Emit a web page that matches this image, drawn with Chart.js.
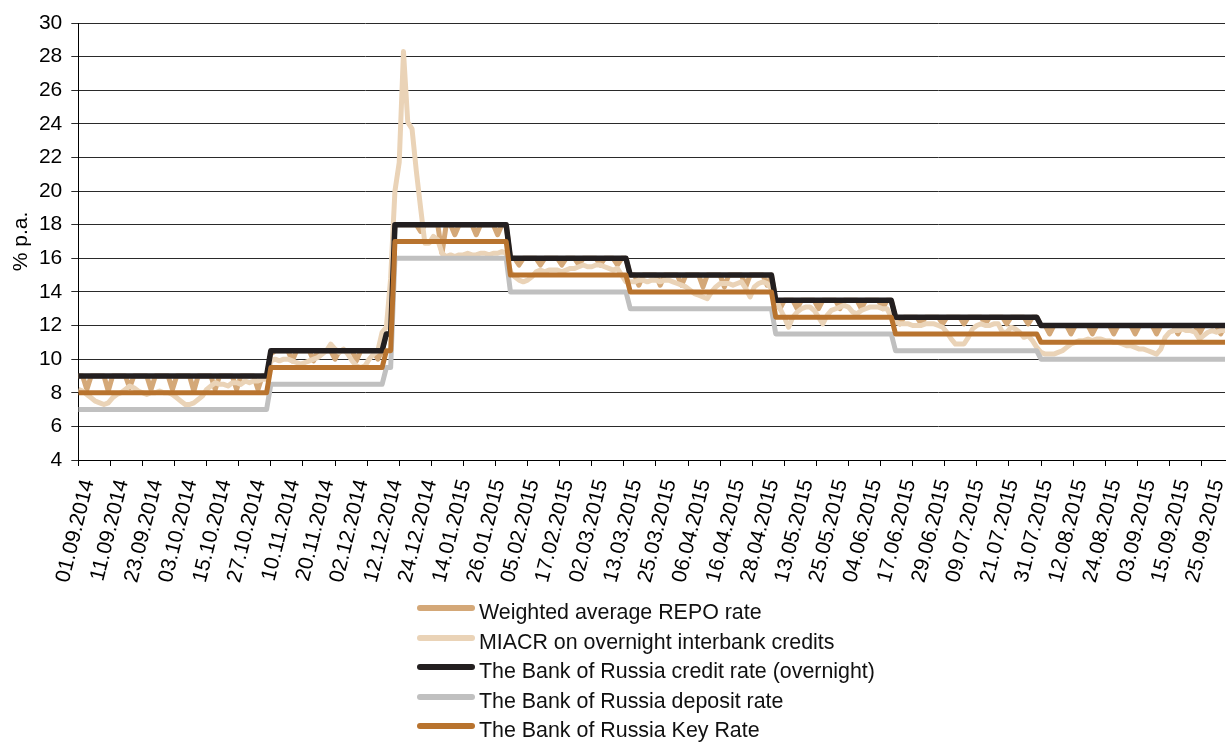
<!DOCTYPE html>
<html>
<head>
<meta charset="utf-8">
<script src="https://cdn.jsdelivr.net/npm/chart.js@4.4.1/dist/chart.umd.min.js"></script>
<style>
  html, body { margin: 0; padding: 0; background: #fff; }
  #wrap { position: relative; width: 1228px; height: 742px; overflow: hidden; }
  #box { position: absolute; left: 0; top: 0; width: 1228px; height: 600px; }
  #legend { position: absolute; left: 417px; top: 598px; font: 21.4px "Liberation Sans", Arial, sans-serif; color: #111; }
  #legend div { height: 29.6px; line-height: 29.6px; white-space: nowrap; }
  #legend .sw { display: inline-block; width: 58px; height: 6px; border-radius: 3px; margin-right: 4px; vertical-align: baseline; position: relative; top: -8px; }
</style>
</head>
<body>
<div id="wrap">
  <div id="box"><canvas id="chartRates"></canvas></div>
  <div id="legend"></div>
</div>
<script>
// ==========================
// DATA (one value per trading day, 01.09.2014 - 30.09.2015)
// ==========================
const tickLabels = [
  "01.09.2014", "11.09.2014", "23.09.2014", "03.10.2014", "15.10.2014", "27.10.2014",
  "10.11.2014", "20.11.2014", "02.12.2014", "12.12.2014", "24.12.2014", "14.01.2015",
  "26.01.2015", "05.02.2015", "17.02.2015", "02.03.2015", "13.03.2015", "25.03.2015",
  "06.04.2015", "16.04.2015", "28.04.2015", "13.05.2015", "25.05.2015", "04.06.2015",
  "17.06.2015", "29.06.2015", "09.07.2015", "21.07.2015", "31.07.2015", "12.08.2015",
  "24.08.2015", "03.09.2015", "15.09.2015", "25.09.2015"
];
const daysPerLabel = 8;
const daysPerTickMark = 7.5;

const repoRate = [
  9, 9, 8.2, 9, 9, 9, 9, 8.1, 9, 9,
  9, 9, 8.3, 9, 9, 9, 9, 8.2, 9, 9,
  9, 9, 8.2, 9, 9, 9, 9, 8.1, 9, 9,
  9, 9, 8.2, 9, 9, 9, 9, 8.2, 9, 9,
  9, 9, 8.2, 9, 9, 10.3, 10.5, 10.5, 10.5, 10.5,
  9.9, 10.5, 10.5, 10.5, 10.5, 9.9, 10.5, 10.5, 10.5, 10.5,
  10.0, 10.5, 10.5, 10.5, 10.5, 9.9, 10.5, 10.5, 10.5, 10.5,
  10.0, 10.5, 11.5, 11.5, 18, 18, 18, 18, 18, 18,
  17.6, 18, 18, 18, 18, 16.3, 18, 18, 17.4, 18,
  18, 18, 18, 17.4, 18, 18, 18, 18, 17.4, 18,
  18, 16, 16, 15.6, 16, 16, 16, 16, 15.6, 16,
  16, 16, 16, 15.6, 16, 16, 16, 15.6, 16, 16,
  16, 16, 15.6, 16, 16, 16, 15.6, 16, 16, 15,
  15, 14.4, 15, 15, 15, 15, 14.4, 15, 15, 15,
  15, 14.4, 15, 15, 15, 15, 14.3, 15, 15, 15,
  15, 14.3, 15, 15, 15, 15, 14.3, 15, 15, 15,
  15, 14.4, 15, 13.5, 13.0, 13.5, 13.5, 13.5, 13.0, 13.5,
  13.5, 13.5, 13.5, 13.0, 13.5, 13.5, 13.5, 13.5, 13.0, 13.5,
  13.5, 13.5, 13.5, 13.0, 13.5, 13.5, 13.5, 13.5, 13.0, 13.5,
  13.5, 12.5, 12.1, 12.5, 12.5, 12.5, 12.5, 12.1, 12.5, 12.5,
  12.5, 12.5, 12.1, 12.5, 12.5, 12.5, 12.5, 12.1, 12.5, 12.5,
  12.5, 12.5, 12.1, 12.5, 12.5, 12.5, 12.5, 12.1, 12.5, 12.5,
  12.5, 12.5, 12.1, 12.5, 12.5, 12, 12, 11.5, 12, 12,
  12, 12, 11.5, 12, 12, 12, 12, 11.5, 12, 12,
  12, 12, 11.5, 12, 12, 12, 12, 11.5, 12, 12,
  12, 12, 11.5, 12, 12, 12, 12, 11.5, 12, 12,
  12, 12, 11.5, 12, 12, 12, 12, 11.5, 12
];

const miacrRate = [
  8.2, 8.1, 7.9, 7.7, 7.5, 7.4, 7.3, 7.4, 7.7, 7.9,
  8.0, 8.2, 8.4, 8.3, 8.1, 8.0, 7.9, 8.0, 8.0, 8.1,
  8.0, 8.0, 7.9, 7.7, 7.5, 7.3, 7.3, 7.4, 7.6, 7.8,
  8.2, 8.4, 8.6, 8.5, 8.5, 8.4, 8.6, 8.6, 8.5, 8.7,
  8.6, 8.7, 8.7, 8.8, 8.8, 9.9, 10.0, 9.9, 10.0, 10.0,
  9.9, 9.8, 9.7, 9.8, 9.9, 10.0, 10.1, 10.3, 10.5, 10.9,
  10.6, 10.4, 10.6, 10.3, 9.9, 9.6, 9.5, 9.6, 10.0, 10.3,
  10.5, 11.6, 11.9, 14.8, 20.0, 21.7, 28.3, 24.1, 23.7, 21.2,
  19.0, 16.9, 16.9, 17.3, 17.1, 16.3, 16.1, 16.2, 16.1, 16.2,
  16.2, 16.3, 16.2, 16.2, 16.3, 16.3, 16.2, 16.3, 16.3, 16.4,
  16.3, 15.2, 14.9, 14.7, 14.6, 14.7, 14.9, 15.2, 15.3, 15.2,
  15.3, 15.3, 15.3, 15.2, 15.3, 15.4, 15.4, 15.5, 15.6, 15.5,
  15.5, 15.6, 15.6, 15.5, 15.4, 15.3, 15.4, 15.0, 14.6, 14.6,
  14.6, 14.7, 14.7, 14.6, 14.7, 14.7, 14.6, 14.7, 14.7, 14.6,
  14.5, 14.4, 14.3, 14.1, 13.9, 13.8, 13.7, 13.6, 14.0, 14.3,
  14.5, 14.5, 14.5, 14.4, 14.5, 14.6, 14.2, 13.7, 14.3, 14.5,
  14.6, 14.5, 14.2, 13.6, 13.0, 12.5, 11.9, 12.5, 12.8, 13.0,
  13.1, 13.1, 12.9, 12.5, 12.1, 12.6, 12.9, 13.0, 13.1, 13.2,
  13.1, 12.8, 12.7, 12.9, 13.0, 13.1, 13.1, 13.1, 13.0, 13.0,
  12.5, 12.2, 12.1, 12.1, 12.1, 12.0, 12.0, 12.0, 12.1, 12.1,
  12.1, 12.0, 11.9, 11.6, 11.2, 10.9, 10.9, 10.9, 11.3, 11.8,
  12.0, 12.1, 12.0, 12.0, 12.1, 12.1, 11.6, 11.6, 11.9, 11.8,
  11.6, 11.3, 11.4, 11.1, 10.7, 10.4, 10.3, 10.3, 10.3, 10.4,
  10.5, 10.7, 10.9, 11.0, 11.1, 11.1, 11.2, 11.1, 11.2, 11.2,
  11.1, 11.1, 11.0, 11.0, 10.9, 10.8, 10.8, 10.7, 10.6, 10.6,
  10.5, 10.4, 10.3, 10.6, 11.3, 11.6, 11.7, 11.7, 11.8, 11.7,
  11.7, 11.6, 11.2, 11.4, 11.6, 11.7, 11.6, 11.7, 11.7
];

// policy rates: [trading day, rate] at every change
const creditRate = [
  [0, 9], [44, 9], [45, 10.5], [71, 10.5], [72, 11.5], [73, 11.5], [74, 18], [100, 18],
  [101, 16], [128, 16], [129, 15], [162, 15], [163, 13.5], [190, 13.5], [191, 12.5],
  [224, 12.5], [225, 12], [268, 12]
];
const depositRate = [
  [0, 7], [44, 7], [45, 8.5], [71, 8.5], [72, 9.5], [73, 9.5], [74, 16], [100, 16],
  [101, 14], [128, 14], [129, 13], [162, 13], [163, 11.5], [190, 11.5], [191, 10.5],
  [224, 10.5], [225, 10], [268, 10]
];
const keyRate = [
  [0, 8], [44, 8], [45, 9.5], [71, 9.5], [72, 10.5], [73, 10.5], [74, 17], [100, 17],
  [101, 15], [128, 15], [129, 14], [162, 14], [163, 12.5], [190, 12.5], [191, 11.5],
  [224, 11.5], [225, 11], [268, 11]
];

const daily = arr => arr.map((v, i) => ({ x: i, y: v }));
const steps = arr => arr.map(p => ({ x: p[0], y: p[1] }));

const font = { family: "'Liberation Sans', Arial, sans-serif", size: 21 };
const lastDay = miacrRate.length - 1;

// ==========================
// CHART
// ==========================
document.addEventListener("DOMContentLoaded", () => {
  const chart = new Chart(document.getElementById("chartRates"), {
    type: "line",
    data: {
      datasets: [
        { label: "Weighted average REPO rate", data: daily(repoRate), borderColor: "#D4A878", borderWidth: 5, order: 5 },
        { label: "MIACR on overnight interbank credits", data: daily(miacrRate), borderColor: "#EAD3B7", borderWidth: 5, order: 4 },
        { label: "The Bank of Russia credit rate (overnight)", data: steps(creditRate), borderColor: "#231F20", borderWidth: 5.5, order: 3 },
        { label: "The Bank of Russia deposit rate", data: steps(depositRate), borderColor: "#C0C0C0", borderWidth: 5, order: 2 },
        { label: "The Bank of Russia Key Rate", data: steps(keyRate), borderColor: "#B8732E", borderWidth: 5, order: 1 }
      ]
    },
    options: {
      responsive: true,
      maintainAspectRatio: false,
      animation: false,
      layout: { padding: { left: 5, top: 23, right: 3, bottom: 0 } },
      elements: {
        point: { radius: 0 },
        line: { tension: 0, borderJoinStyle: "round", fill: false }
      },
      plugins: { legend: { display: false }, tooltip: { enabled: false } },
      scales: {
        // tick marks only, right under the plot
        marks: {
          type: "linear",
          position: "bottom",
          weight: 0,
          min: 0,
          max: lastDay,
          grid: { drawOnChartArea: false, drawTicks: true, tickLength: 6, color: "#000" },
          border: { display: false },
          ticks: { stepSize: daysPerTickMark, includeBounds: false, autoSkip: false, maxRotation: 0, callback: () => "" },
          afterFit: s => { s.height = 0; s.paddingLeft = 0; s.paddingRight = 0; }
        },
        x: {
          type: "linear",
          position: "bottom",
          weight: 1,
          min: 0,
          max: lastDay,
          grid: { display: false, drawTicks: false },
          border: { display: true, color: "#000", width: 1 },
          ticks: {
            stepSize: daysPerLabel,
            includeBounds: false,
            autoSkip: false,
            minRotation: 76,
            maxRotation: 76,
            padding: 17,
            labelOffset: 10,
            color: "#000",
            font: font,
            callback: v => tickLabels[v / daysPerLabel]
          },
          afterFit: s => { s.height = 140; s.paddingLeft = 0; s.paddingRight = 0; }
        },
        y: {
          min: 4,
          max: 30,
          grid: { color: "#2a2a2a", lineWidth: 1, tickLength: 7 },
          border: { color: "#000", width: 1 },
          ticks: { stepSize: 2, padding: 9, color: "#000", font: font },
          title: { display: true, text: "% p.a.", color: "#000", font: font, padding: { top: 4, bottom: 4 } },
          afterFit: s => { s.width = 73.3; }
        }
      }
    }
  });

  // legend as a vertical list under the chart
  const legend = document.getElementById("legend");
  chart.data.datasets.forEach(ds => {
    const row = document.createElement("div");
    const sw = document.createElement("span");
    sw.className = "sw";
    sw.style.background = ds.borderColor;
    row.appendChild(sw);
    row.appendChild(document.createTextNode(ds.label));
    legend.appendChild(row);
  });
});
</script>
</body>
</html>
